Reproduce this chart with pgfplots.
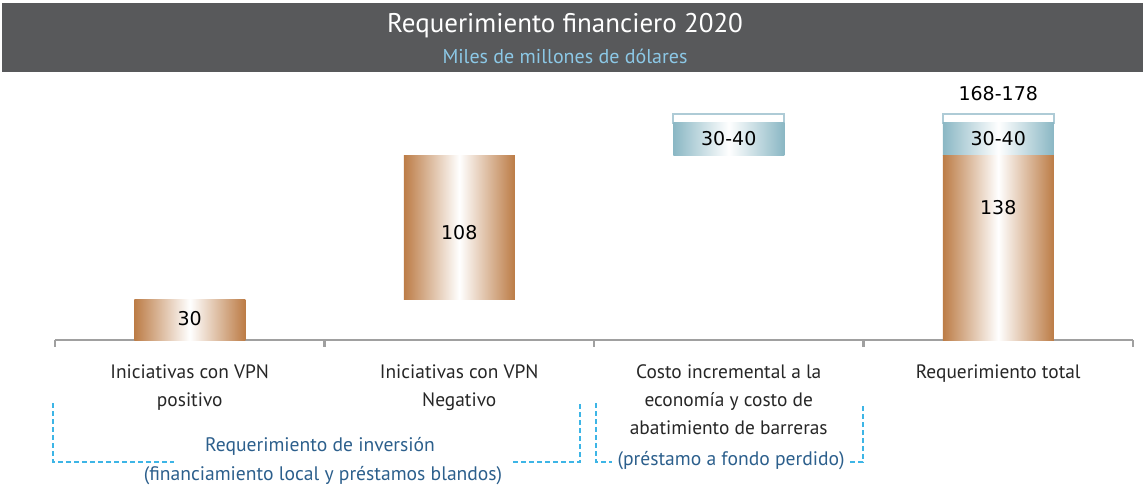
\documentclass[border=0pt]{standalone}
\usepackage{pgfplots}
\pgfplotsset{compat=1.18}
\usepackage{fontspec}
\setmainfont{PT Sans}
\newfontfamily\numfont{DejaVu Sans}
\definecolor{copper}{HTML}{BC7C46}
\definecolor{steel}{HTML}{8AB7C4}
\definecolor{band}{HTML}{58595B}
\definecolor{subblue}{HTML}{8CC8E6}
\definecolor{bracket}{HTML}{3DB5E6}
\definecolor{brtext}{HTML}{2C5F8C}
\definecolor{axisgray}{HTML}{A0A0A0}
\definecolor{outline}{HTML}{AECBD6}
\pgfplotsset{base/.style={width=539pt, height=130pt, scale only axis,
  xmin=-0.5, xmax=3.5, ymin=0, ymax=194, ybar stacked, bar width=55.5pt, clip=false},
  copperfill/.style={draw=none, left color=copper, right color=copper, middle color=white},
  steelfill/.style={draw=none, left color=steel, right color=steel, middle color=white},
  topbox/.style={fill=white, draw=outline, line width=1pt},
  hidden/.style={draw=none, fill=none}}
\begin{document}
\begin{tikzpicture}
\path[use as bounding box] (-27.5pt,-74.5pt) rectangle (545.5pt,170pt);
\fill[band] (-26.5pt,134pt) rectangle (544pt,168.5pt);
\node[text=white, font=\fontsize{13.5}{15}\selectfont] at (255pt,157pt) {Requerimiento financiero 2020};
\node[text=subblue, font=\fontsize{10}{12}\selectfont] at (255pt,142pt) {Miles de millones de dólares};
% bar 1 + axis
\begin{axis}[base,
  axis x line=bottom, axis y line=none,
  x axis line style={axisgray, line width=1.4pt, -},
  xtick={0,1,2,3},
  xticklabels={{Iniciativas con VPN\\positivo},{Iniciativas con VPN\\Negativo},{Costo incremental a la\\economía y costo de\\abatimiento de barreras},{Requerimiento total}},
  xtick style={draw=none}, ytick=\empty,
  xticklabel style={align=center, font=\fontsize{9.7}{14}\selectfont, text=black!85, anchor=north, yshift=-6.5pt},
]
\addplot[copperfill] coordinates {(0,30)};
\pgfplotsinvokeforeach{-0.5,0.5,1.5,2.5,3.5}{
  \draw[axisgray, line width=1.4pt] (axis cs:#1,0) -- ([yshift=-3.5pt]axis cs:#1,0);
}
\end{axis}
% bar 2
\begin{axis}[base, hide axis]
\addplot[hidden] coordinates {(1,30)};
\addplot[copperfill] coordinates {(1,108)};
\end{axis}
% bar 3
\begin{axis}[base, hide axis]
\addplot[hidden] coordinates {(2,138)};
\addplot[steelfill] coordinates {(2,24)};
\addplot[topbox] coordinates {(2,7)};
\end{axis}
% bar 4
\begin{axis}[base, hide axis]
\addplot[copperfill] coordinates {(3,138)};
\addplot[steelfill] coordinates {(3,24)};
\addplot[topbox] coordinates {(3,7)};
\end{axis}
% value labels
\begin{axis}[base, hide axis]
\addplot[hidden] coordinates {(0,0)};
\node[font=\numfont\fontsize{9.5}{11}\selectfont] at (axis cs:0,16) {30};
\node[font=\numfont\fontsize{9.5}{11}\selectfont] at (axis cs:1,80) {108};
\node[font=\numfont\fontsize{9.5}{11}\selectfont] at (axis cs:3,98.5) {138};
\node[font=\numfont\fontsize{9.5}{11}\selectfont] at (axis cs:2,150) {30-40};
\node[font=\numfont\fontsize{9.5}{11}\selectfont] at (axis cs:3,150) {30-40};
\node[font=\numfont\fontsize{9.5}{11}\selectfont] at (axis cs:3,184) {168-178};
\end{axis}
\begin{scope}[bracket, line width=0.6pt, dash pattern=on 2.5pt off 1.5pt]
\draw (-1pt,-31.5pt) -- (-1pt,-61pt) -- (59.5pt,-61pt);
\draw (229pt,-61pt) -- (262.5pt,-61pt) -- (262.5pt,-31.5pt);
\draw (270.5pt,-31.5pt) -- (270.5pt,-61pt) -- (278.5pt,-61pt);
\draw (397.5pt,-61pt) -- (404pt,-61pt) -- (404pt,-31.5pt);
\end{scope}
\node[text=brtext, font=\fontsize{9.8}{11}\selectfont] at (132.5pt,-53pt) {Requerimiento de inversión};
\node[text=brtext, font=\fontsize{9.8}{11}\selectfont] at (134pt,-68pt) {(financiamiento local y préstamos blandos)};
\node[text=brtext, font=\fontsize{9.8}{11}\selectfont] at (338pt,-60.5pt) {(préstamo a fondo perdido)};
\end{tikzpicture}
\end{document}
